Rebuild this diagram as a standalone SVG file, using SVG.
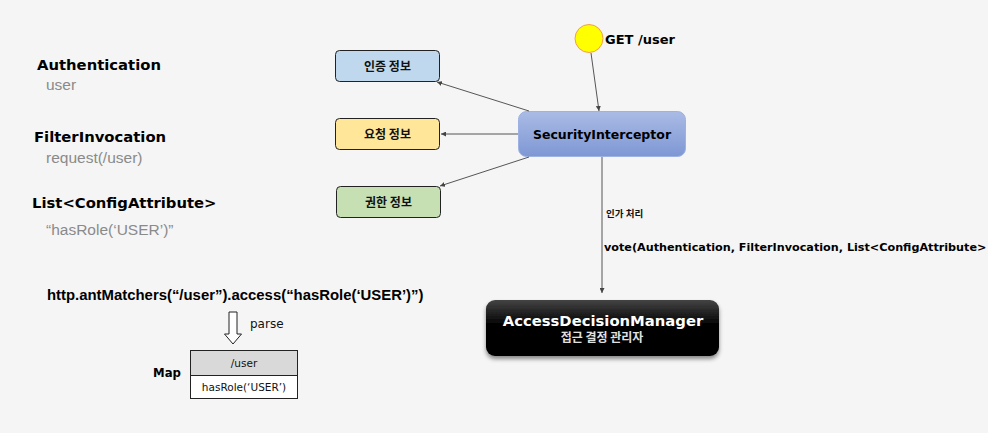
<svg xmlns="http://www.w3.org/2000/svg" width="988" height="433" viewBox="0 0 988 433">
<defs>
<style>
.bold{font-family:"DejaVu Sans","Noto Sans CJK KR",sans-serif;font-weight:bold;fill:#000}
.gray{font-family:"Liberation Sans",Arial,sans-serif;fill:#8a8a8a;font-size:15.5px}
.ko{font-family:"Noto Sans CJK KR",sans-serif;font-weight:bold;font-size:12px;fill:#111}
.box{stroke:#222;stroke-width:1}
.conn{stroke:#555;stroke-width:1;fill:none;marker-end:url(#ah)}
.tbl{font-family:"DejaVu Sans",sans-serif;font-size:10.5px;fill:#111}
</style>
<marker id="ah" viewBox="0 0 6 6" refX="6" refY="3" markerWidth="5" markerHeight="5" orient="auto" markerUnits="userSpaceOnUse">
<path d="M0,0 L6,3 L0,6 z" fill="#444"/>
</marker>
<linearGradient id="gSI" x1="0" y1="0" x2="0" y2="1">
<stop offset="0" stop-color="#aabbe5"/>
<stop offset="1" stop-color="#7e97d4"/>
</linearGradient>
<linearGradient id="gADM" x1="0" y1="0" x2="0" y2="1">
<stop offset="0" stop-color="#444"/>
<stop offset="0.45" stop-color="#000"/>
<stop offset="1" stop-color="#000"/>
</linearGradient>
<filter id="sh" x="-10%" y="-10%" width="120%" height="140%">
<feDropShadow dx="0" dy="3" stdDeviation="2" flood-color="#000" flood-opacity="0.45"/>
</filter>
</defs>
<rect width="988" height="433" fill="#f5f5f5"/>

<g id="labels-left">
<text class="bold" x="37" y="70" font-size="14.8">Authentication</text>
<text class="gray" x="46" y="90">user</text>
<text class="bold" x="34" y="142" font-size="14.8">FilterInvocation</text>
<text class="gray" x="46" y="163">request(/user)</text>
<text class="bold" x="32" y="208" font-size="14.8">List&lt;ConfigAttribute&gt;</text>
<text class="gray" x="46" y="235">“hasRole(‘USER’)”</text>
<text x="47" y="300" font-family="Liberation Sans,Arial,sans-serif" font-weight="bold" font-size="14.9" fill="#000">http.antMatchers(“/user”).access(“hasRole(‘USER’)”)</text>
</g>

<g id="parse-arrow">
<path d="M229,312 L237,312 L237,334 L241.5,334 L233,344 L224.5,334 L229,334 Z" fill="#fff" stroke="#222" stroke-width="1"/>
<text x="250" y="328" font-family="DejaVu Sans,sans-serif" font-size="12" fill="#111">parse</text>
</g>

<g id="map">
<text class="bold" x="153" y="377" font-size="11.7">Map</text>
<rect x="190.5" y="350.5" width="107" height="25" fill="#d9d9d9" stroke="#222"/>
<rect x="190.5" y="375.5" width="107" height="23" fill="#fff" stroke="#222"/>
<text class="tbl" x="244" y="367" font-size="11" text-anchor="middle">/user</text>
<text class="tbl" x="244" y="391" text-anchor="middle">hasRole(‘USER’)</text>
</g>

<g id="node-auth">
<rect class="box" x="335.5" y="50.5" width="104" height="31" rx="4" fill="#bfd8ee"/>
<text class="ko" x="387.5" y="70.5" text-anchor="middle">인증 정보</text>
</g>
<g id="node-req">
<rect class="box" x="335.5" y="118.5" width="104" height="31" rx="4" fill="#ffe699"/>
<text class="ko" x="387.5" y="138.5" text-anchor="middle">요청 정보</text>
</g>
<g id="node-perm">
<rect class="box" x="336.5" y="186.5" width="104" height="31" rx="4" fill="#c6e0b4"/>
<text class="ko" x="388.5" y="206.5" text-anchor="middle">권한 정보</text>
</g>

<g id="node-get">
<circle cx="589" cy="38.5" r="14" fill="#ffff00" stroke="#f0a050" stroke-width="1"/>
<text class="bold" x="605" y="44" font-size="13">GET /user</text>
</g>

<g id="node-si">
<rect x="518.5" y="111.5" width="167" height="45" rx="8" fill="url(#gSI)" stroke="#9db1e2" stroke-width="1"/>
<text class="bold" x="602" y="139" font-size="12.5" text-anchor="middle">SecurityInterceptor</text>
</g>

<g id="node-adm">
<rect x="486" y="300" width="233" height="56" rx="9" fill="url(#gADM)" filter="url(#sh)"/>
<text class="bold" x="603" y="326" font-size="14.8" text-anchor="middle" style="fill:#fff">AccessDecisionManager</text>
<text x="602" y="341.5" font-family="Noto Sans CJK KR,sans-serif" font-weight="bold" font-size="12" text-anchor="middle" fill="#e0e0e0">접근 결정 관리자</text>
</g>

<g id="connectors">
<line class="conn" x1="591" y1="53" x2="599" y2="111"/>
<line class="conn" x1="529" y1="111" x2="437" y2="82"/>
<line class="conn" x1="518" y1="134" x2="441" y2="134"/>
<line class="conn" x1="529" y1="157" x2="440" y2="186"/>
<line class="conn" x1="602" y1="157" x2="602" y2="293"/>
</g>

<g id="conn-labels">
<text x="606" y="217" font-family="Noto Sans CJK KR,sans-serif" font-weight="bold" font-size="9.5" fill="#111">인가 처리</text>
<text class="bold" x="604" y="251" font-size="11.2">vote(Authentication, FilterInvocation, List&lt;ConfigAttribute&gt;</text>
</g>
</svg>
